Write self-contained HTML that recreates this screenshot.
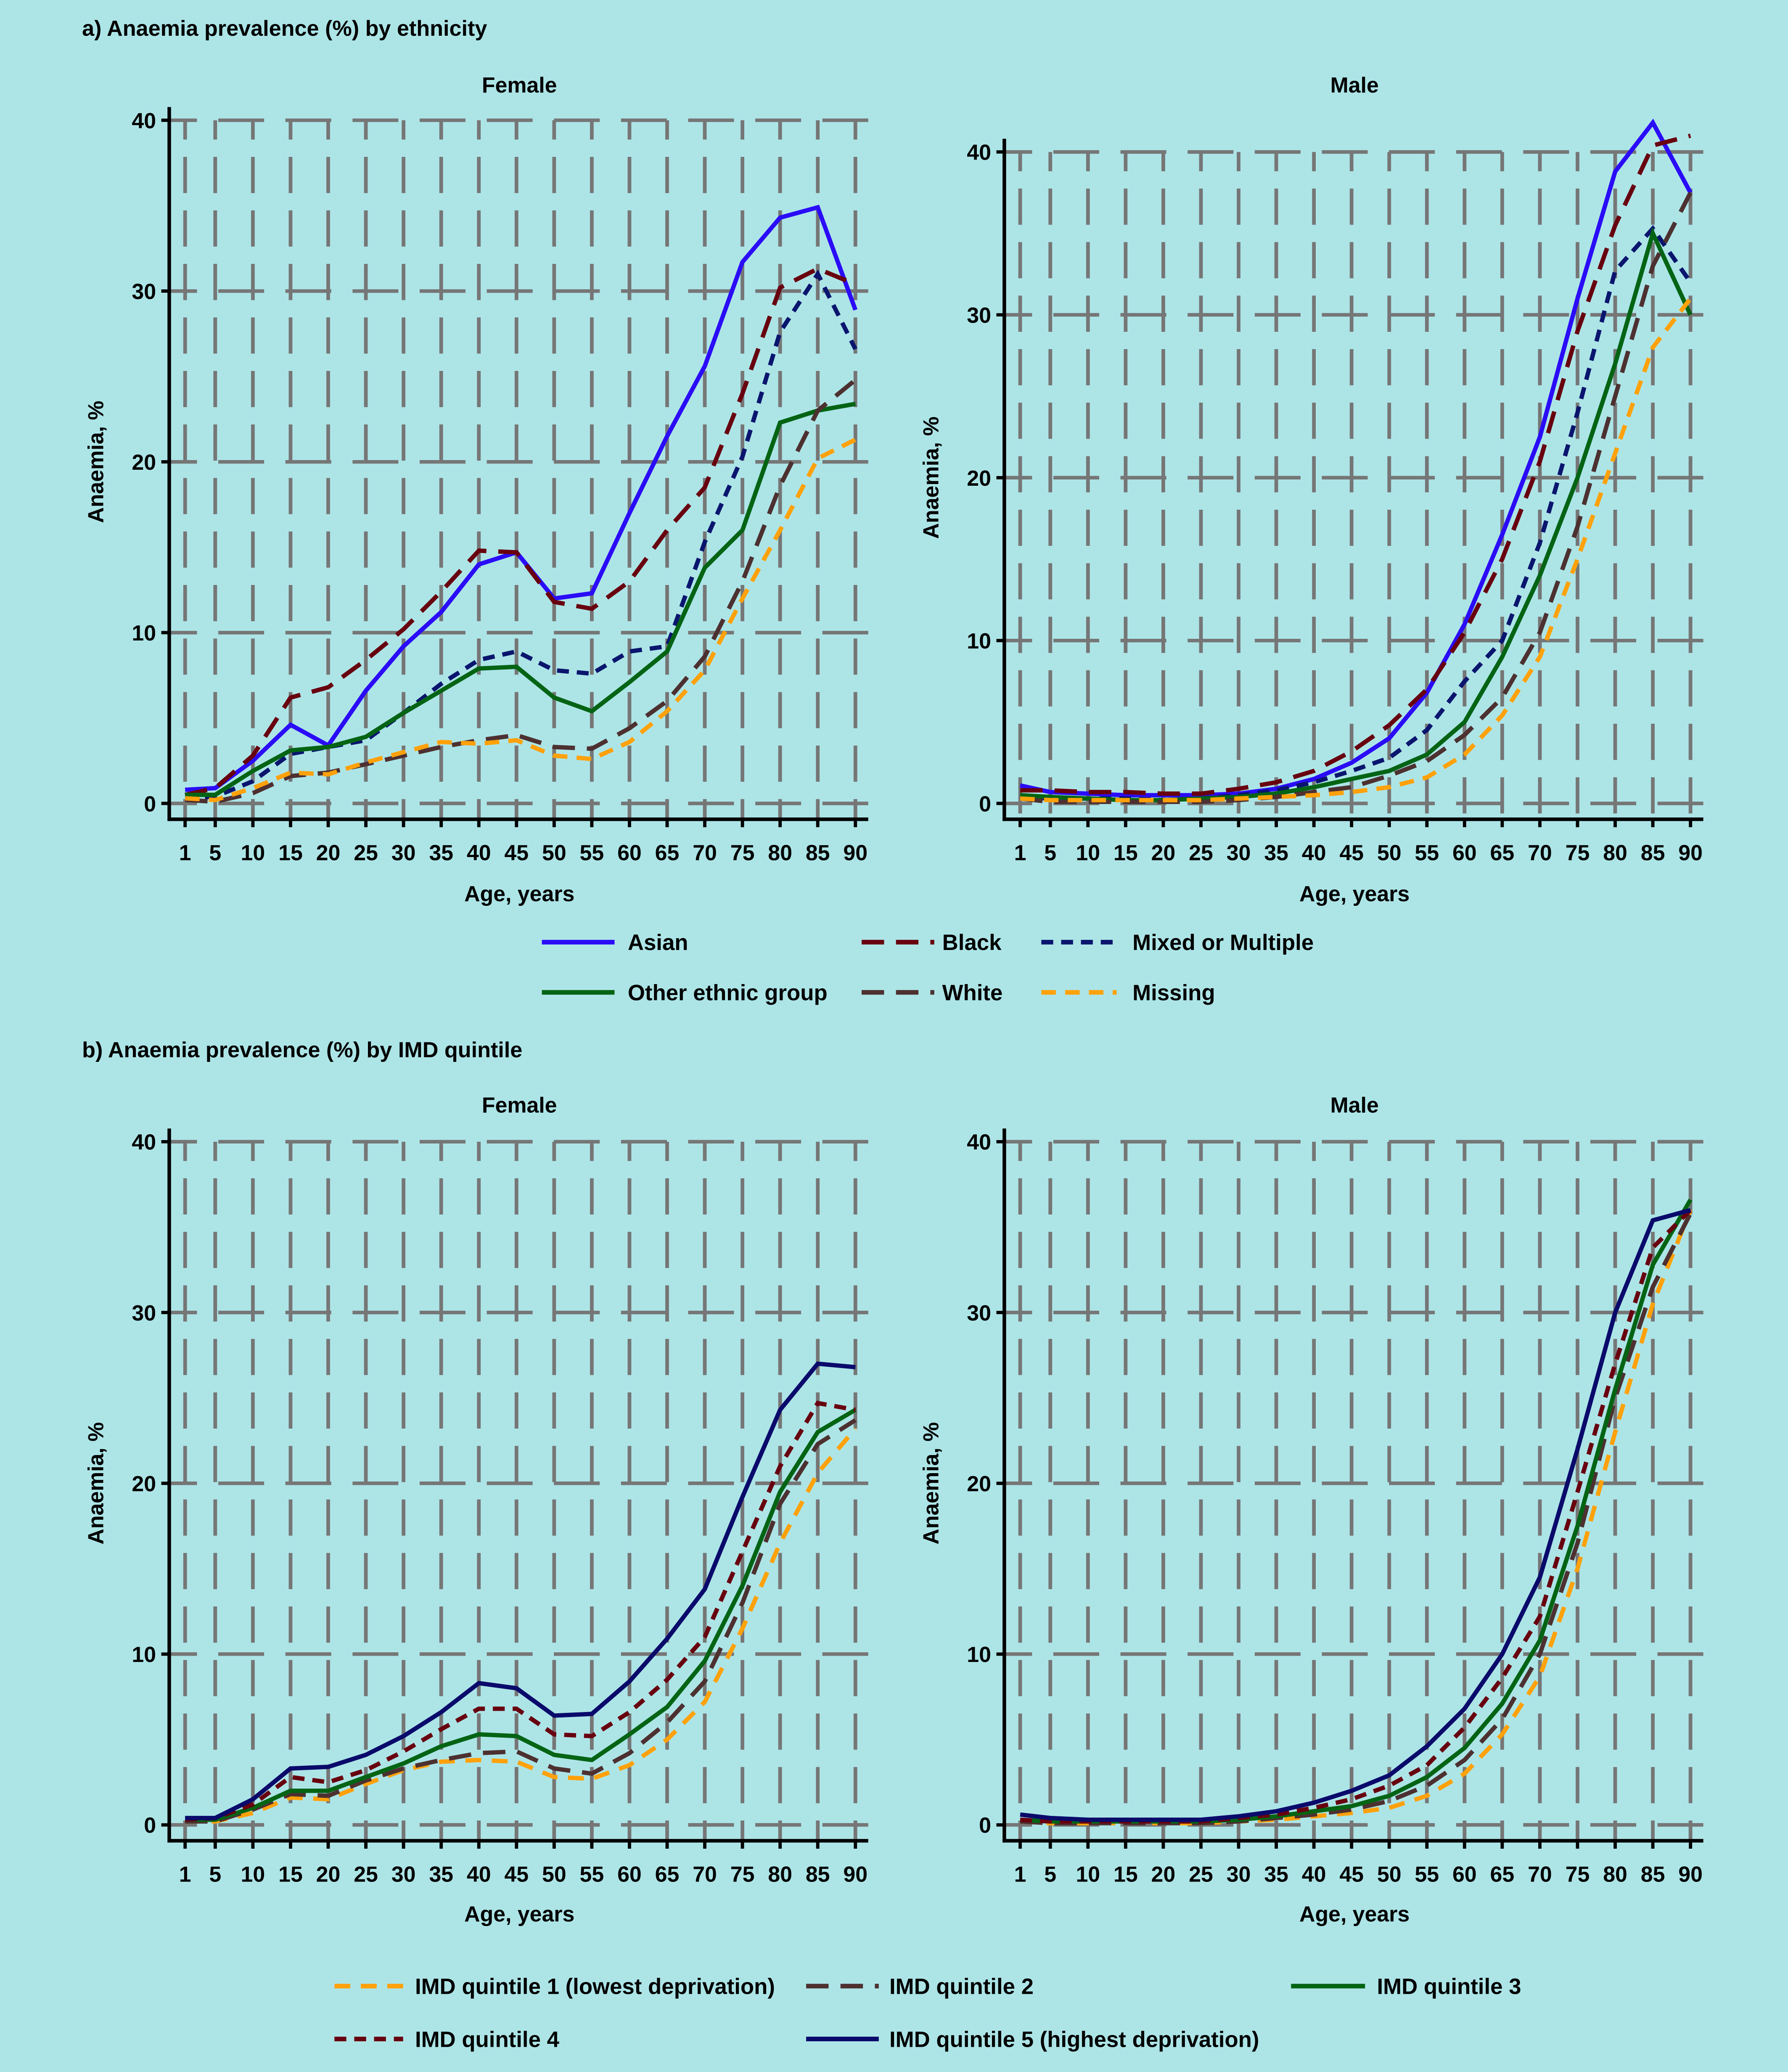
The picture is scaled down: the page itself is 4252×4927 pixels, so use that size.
<!DOCTYPE html>
<html><head><meta charset="utf-8">
<style>
html,body{margin:0;padding:0;background:#ade5e7;}
svg{display:block;}
text{font-family:"Liberation Sans",sans-serif;font-weight:bold;fill:#000;}
</style></head>
<body>
<svg id="fig" width="4252" height="4927" viewBox="0 0 1353 1568" xmlns="http://www.w3.org/2000/svg">
<rect width="1353" height="1568" fill="#ade5e7"/>
<text x="62" y="27" font-size="16.6">a) Anaemia prevalence (%) by ethnicity</text>
<text x="62" y="800" font-size="16.6">b) Anaemia prevalence (%) by IMD quintile</text>
<g id="plots"></g>
<g id="legends"></g>
</svg>
<script>
const ages = [1,5,10,15,20,25,30,35,40,45,50,55,60,65,70,75,80,85,90];
const yTicks = [0,10,20,30,40];
const ethNames = ["Asian","Black","Mixed or Multiple","Other ethnic group","White","Missing"];
const femA_asian = [0.8,0.9,2.5,4.6,3.4,6.6,9.2,11.2,14,14.7,12,12.3,17,21.5,25.6,31.7,34.3,34.9,28.9];
const femA_black = [0.5,0.9,2.8,6.2,6.8,8.4,10.2,12.4,14.8,14.7,11.8,11.4,13,16,18.5,24,30.2,31.3,30.4];
const femA_mixed = [0.3,0.4,1.3,2.9,3.3,3.7,5.3,7,8.4,8.9,7.8,7.6,8.9,9.2,15.3,20.3,27.6,31,26.6];
const femA_other = [0.5,0.5,1.9,3.1,3.3,3.9,5.3,6.6,7.9,8,6.2,5.4,7.1,8.9,13.8,16,22.3,23,23.4];
const femA_white = [0.2,0.1,0.6,1.6,1.8,2.3,2.8,3.3,3.7,4,3.3,3.2,4.4,6,8.6,13,18.6,23,24.8];
const femA_missing = [0.3,0.2,0.9,1.8,1.7,2.4,3,3.6,3.5,3.7,2.8,2.6,3.6,5.4,7.8,12,16,20.2,21.3];
const malA_asian = [1.1,0.7,0.6,0.5,0.5,0.5,0.6,0.9,1.5,2.5,4,6.8,11,16.5,22.5,31,38.8,41.8,37.5];
const malA_black = [0.8,0.8,0.7,0.7,0.6,0.6,0.9,1.3,2,3.2,4.8,7,10.5,15,21,29,35.5,40.4,41];
const malA_mixed = [0.4,0.3,0.3,0.3,0.2,0.3,0.5,0.8,1.3,2,2.8,4.5,7.5,10,16,24,32.7,35.3,32];
const malA_other = [0.5,0.4,0.3,0.2,0.2,0.3,0.4,0.6,1,1.5,2,3,5,9,14,20,27,35,30];
const malA_white = [0.3,0.1,0.1,0.1,0.1,0.1,0.2,0.4,0.7,1,1.7,2.6,4.2,6.5,10.5,17,25,33,37.5];
const malA_missing = [0.3,0.2,0.2,0.2,0.2,0.2,0.3,0.4,0.5,0.7,1,1.6,3,5.4,9,15,21.5,28,31];
const imdNames = ["IMD quintile 1 (lowest deprivation)","IMD quintile 2","IMD quintile 3","IMD quintile 4","IMD quintile 5 (highest deprivation)"];
const femB_q1 = [0.2,0.2,0.7,1.6,1.5,2.4,3.2,3.7,3.8,3.7,2.8,2.7,3.5,5,7.2,11.5,16.5,20.6,23.2];
const femB_q2 = [0.2,0.2,0.9,1.8,1.7,2.6,3.3,3.8,4.2,4.3,3.3,3,4.2,6,8.4,13,18.8,22.3,23.7];
const femB_q3 = [0.3,0.3,1,2,2,2.8,3.6,4.6,5.3,5.2,4.1,3.8,5.3,6.9,9.6,14,19.5,23,24.3];
const femB_q4 = [0.3,0.4,1.2,2.8,2.5,3.2,4.3,5.6,6.8,6.8,5.3,5.2,6.6,8.5,11,16,21,24.7,24.3];
const femB_q5 = [0.4,0.4,1.5,3.3,3.4,4.1,5.2,6.6,8.3,8,6.4,6.5,8.4,10.9,13.8,19.2,24.3,27,26.8];
const malB_q1 = [0.2,0.1,0.1,0.1,0.1,0.1,0.2,0.3,0.5,0.7,1,1.7,3,5.3,8.7,15,23,30.5,36];
const malB_q2 = [0.2,0.1,0.1,0.1,0.1,0.1,0.2,0.4,0.6,0.9,1.4,2.3,3.8,6.2,10,16.5,25,31.5,35.8];
const malB_q3 = [0.3,0.2,0.2,0.2,0.2,0.2,0.3,0.5,0.8,1.1,1.7,2.8,4.5,7.1,10.8,17.5,25.5,32.8,36.6];
const malB_q4 = [0.3,0.2,0.2,0.2,0.2,0.2,0.4,0.6,1,1.5,2.3,3.5,5.7,8.6,12.2,19.5,27,33.8,36];
const malB_q5 = [0.6,0.4,0.3,0.3,0.3,0.3,0.5,0.8,1.3,2,2.9,4.6,6.8,10,14.5,22,30,35.4,36];

const NS="http://www.w3.org/2000/svg";
function mk(tag,attrs,parent){const e=document.createElementNS(NS,tag);for(const k in attrs)e.setAttribute(k,attrs[k]);parent.appendChild(e);return e;}

const ethStyles=[
 {c:"#2a0cf7",d:""},{c:"#68000f",d:"17 9"},{c:"#0a156e",d:"9 6"},
 {c:"#046414",d:""},{c:"#4d3030",d:"17 9"},{c:"#ffa10a",d:"11 7"}];
const imdStyles=[
 {c:"#ffa10a",d:"12 8"},{c:"#4d3030",d:"17 9"},{c:"#046414",d:""},
 {c:"#68000f",d:"9 6"},{c:"#0a0a6b",d:""}];

const plots=document.getElementById('plots');
function panel(name,sub,x0,y0,y40,series,styles,subY,axisLblY){
  const g=mk('g',{},plots);
  
  
  const xs=a=>x0+(a-1)*5.7;
  const ys=v=>y0-(v/40)*(y0-y40);
  const axL=x0-12, axR=x0+517, axB=y0+12, axT=y40-10;
  yTicks.forEach(t=>{
    const l=mk('line',{x1:axL,x2:axR,y1:ys(t),y2:ys(t),stroke:"#767676",'stroke-width':2.7,'stroke-dasharray':"34.7 16.1",'stroke-dashoffset':13.7},g);
    
    
  });
  ages.forEach(a=>{
    const l=mk('line',{x1:xs(a),x2:xs(a),y1:ys(40),y2:axB,stroke:"#767676",'stroke-width':2.8,'stroke-dasharray':"27.4 13.1",'stroke-dashoffset':12.8},g);
    
    
  });
  const ya=mk('line',{x1:axL,x2:axL,y1:axT,y2:axB+1.3,stroke:"#000",'stroke-width':2.7},g);
  
  
  const xa=mk('line',{x1:axL-1.3,x2:axR,y1:axB,y2:axB,stroke:"#000",'stroke-width':2.7},g);
  
  
  yTicks.forEach(t=>{
    mk('line',{x1:axL-6,x2:axL,y1:ys(t),y2:ys(t),stroke:"#000",'stroke-width':2.5},g);
    const tx=mk('text',{x:axL-10,y:ys(t)+6,'font-size':16.5,'text-anchor':'end'},g);
    tx.textContent=t;
    
    
  });
  ages.forEach(a=>{
    mk('line',{x1:xs(a),x2:xs(a),y1:axB,y2:axB+6,stroke:"#000",'stroke-width':2.5},g);
    const tx=mk('text',{x:xs(a),y:axB+31,'font-size':16.5,'text-anchor':'middle'},g);
    tx.textContent=a;
    
    
  });
  const st=mk('text',{x:x0+253,y:subY,'font-size':16.5,'text-anchor':'middle'},g);
  st.textContent=sub;
  
  
  const xl=mk('text',{x:x0+253,y:axisLblY,'font-size':16.5,'text-anchor':'middle'},g);
  xl.textContent="Age, years";
  
  
  const yc=(ys(0)+ys(40))/2;
  const yl=mk('text',{x:0,y:0,'font-size':16.5,'text-anchor':'middle',transform:`translate(${x0-62},${yc}) rotate(-90)`},g);
  yl.textContent="Anaemia, %";
  
  
  series.forEach((s,i)=>{
    const pts=s.map((v,j)=>xs(ages[j]).toFixed(1)+','+ys(v).toFixed(1)).join(' ');
    const p=mk('polyline',{points:pts,fill:'none',stroke:styles[i].c,'stroke-width':3.3,'stroke-linejoin':'miter'},g);
    if(styles[i].d)p.setAttribute('stroke-dasharray',styles[i].d);
    
    
  });
}
panel('panel-a-female','Female',140,608,91,[femA_asian,femA_black,femA_mixed,femA_other,femA_white,femA_missing],ethStyles,70,682);
panel('panel-a-male','Male',772,608,115,[malA_asian,malA_black,malA_mixed,malA_other,malA_white,malA_missing],ethStyles,70,682);
panel('panel-b-female','Female',140,1381,864,[femB_q1,femB_q2,femB_q3,femB_q4,femB_q5],imdStyles,842,1454);
panel('panel-b-male','Male',772,1381,864,[malB_q1,malB_q2,malB_q3,malB_q4,malB_q5],imdStyles,842,1454);

const leg=document.getElementById('legends');
function legendEntry(x1,x2,tx,y,label,style){
  const g=mk('g',{},leg);
  
  
  const l=mk('line',{x1:x1,x2:x2,y1:y,y2:y,stroke:style.c,'stroke-width':3.5},g);
  if(style.d)l.setAttribute('stroke-dasharray',style.d);
  const t=mk('text',{x:tx,y:y+6,'font-size':16.8},g);
  t.textContent=label;
}
const aLeg=[[410,465,475,713],[652,707,713,713],[788,845,857,713],[410,465,475,751],[652,707,713,751],[788,845,857,751]];
ethNames.forEach((n,i)=>legendEntry(aLeg[i][0],aLeg[i][1],aLeg[i][2],aLeg[i][3],n,ethStyles[i]));
const bLeg=[[253,305,314,1503],[610,665,673,1503],[977,1033,1042,1503],[253,305,314,1543],[610,665,673,1543]];
imdNames.forEach((n,i)=>legendEntry(bLeg[i][0],bLeg[i][1],bLeg[i][2],bLeg[i][3],n,imdStyles[i]));
</script>
</body></html>
